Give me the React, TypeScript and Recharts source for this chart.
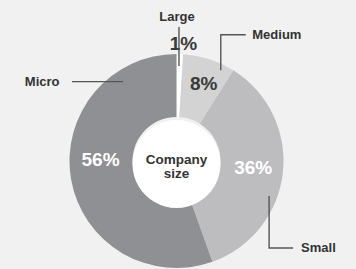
import React from 'react';
import { PieChart, Pie, Cell } from 'recharts';

const categories = ['Large', 'Medium', 'Small', 'Micro'];
const shares = [1, 8, 36, 56];
const centerTitle = ['Company', 'size'];

const data = categories.map((name, i) => ({ name, value: shares[i] }));
const hole = [{ name: 'hole', value: 1 }];

const fills: Record<string, string> = {
  Large: '#ffffff',
  Medium: '#d3d3d3',
  Small: '#bdbdc0',
  Micro: '#8f9093',
};

// where the % sits (angle tweak / radius) and how the callout is drawn
// anchor: angle+radius from centre, path: relative steps, text side
const callouts: Record<string, any> = {
  Large: { pctDa: -1.8, pctR: 118, pctDx: -0.5, pctColor: '#3a3a3a', a: 88.5, r: 95, path: [[0, -39]], txt: [-2, -11], anchor: 'middle' },
  Medium: { pctDa: -1.6, pctR: 82, pctDx: 0, pctColor: '#3a3a3a', a: 64, r: 101, path: [[0, -35.5], [25, 0]], txt: [6.5, 0], anchor: 'start' },
  Small: { pctDa: 1.1, pctR: 77, pctDx: 0, pctColor: '#ffffff', a: -20.7, r: 99, path: [[0, 52], [24, 0]], txt: [8, 0], anchor: 'start' },
  Micro: { pctDa: -11.3, pctR: 76, pctDx: 0, pctColor: '#ffffff', a: 124, r: 95.7, path: [[-51, 0]], txt: [-12.5, 0], anchor: 'end' },
};

const FONT = '"Liberation Sans", Arial, Helvetica, sans-serif';
const RAD = Math.PI / 180;

const renderLabel = (props: any) => {
  const { cx, cy, midAngle, name, value } = props;
  const c = callouts[name];
  const pa = (midAngle + c.pctDa) * RAD;
  const px = cx + c.pctR * Math.cos(pa) + c.pctDx;
  const py = cy - c.pctR * Math.sin(pa);

  const aa = c.a * RAD;
  let x = cx + c.r * Math.cos(aa);
  let y = cy - c.r * Math.sin(aa);
  const pts = [[x, y]];
  c.path.forEach(([dx, dy]: number[]) => {
    x += dx;
    y += dy;
    pts.push([x, y]);
  });
  const d = pts.map((p, i) => (i ? 'L' : 'M') + p[0] + ',' + p[1]).join(' ');

  return (
    <g>
      <text x={px} y={py} textAnchor="middle" dominantBaseline="central" fill={c.pctColor}
        fontFamily={FONT} fontWeight="bold" fontSize={19}>
        {value}%
      </text>
      <path d={d} stroke="#555" strokeWidth={1.4} fill="none" />
      <text x={x + c.txt[0]} y={y + c.txt[1]} textAnchor={c.anchor} dominantBaseline="central"
        fill="#333" fontFamily={FONT} fontWeight="bold" fontSize={13}>
        {name}
      </text>
    </g>
  );
};

const renderCenter = (props: any) => {
  const { cx, cy } = props;
  return (
    <text x={cx} y={cy} textAnchor="middle" fill="#333" fontFamily={FONT} fontWeight="bold" fontSize={13.5}>
      <tspan x={cx} dy={0}>{centerTitle[0]}</tspan>
      <tspan x={cx} dy={13.5}>{centerTitle[1]}</tspan>
    </text>
  );
};

export default function App() {
  return (
    <div style={{ position: 'fixed', left: 0, top: 0, width: 356, height: 269, background: '#f0f1f0' }}>
      <PieChart width={356} height={269} margin={{ top: 0, right: 0, bottom: 0, left: 0 }}>
        <Pie
          data={data}
          dataKey="value"
          nameKey="name"
          cx={176.5}
          cy={161}
          innerRadius={44}
          outerRadius={107}
          startAngle={90}
          endAngle={-270}
          stroke="none"
          label={renderLabel}
          labelLine={false}
          isAnimationActive={false}
        >
          {data.map((d) => (
            <Cell key={d.name} fill={fills[d.name]} />
          ))}
        </Pie>
        <Pie
          data={hole}
          dataKey="value"
          cx={176.5}
          cy={164}
          innerRadius={0}
          outerRadius={44}
          stroke="none"
          fill="#ffffff"
          label={renderCenter}
          labelLine={false}
          isAnimationActive={false}
        />
      </PieChart>
    </div>
  );
}
